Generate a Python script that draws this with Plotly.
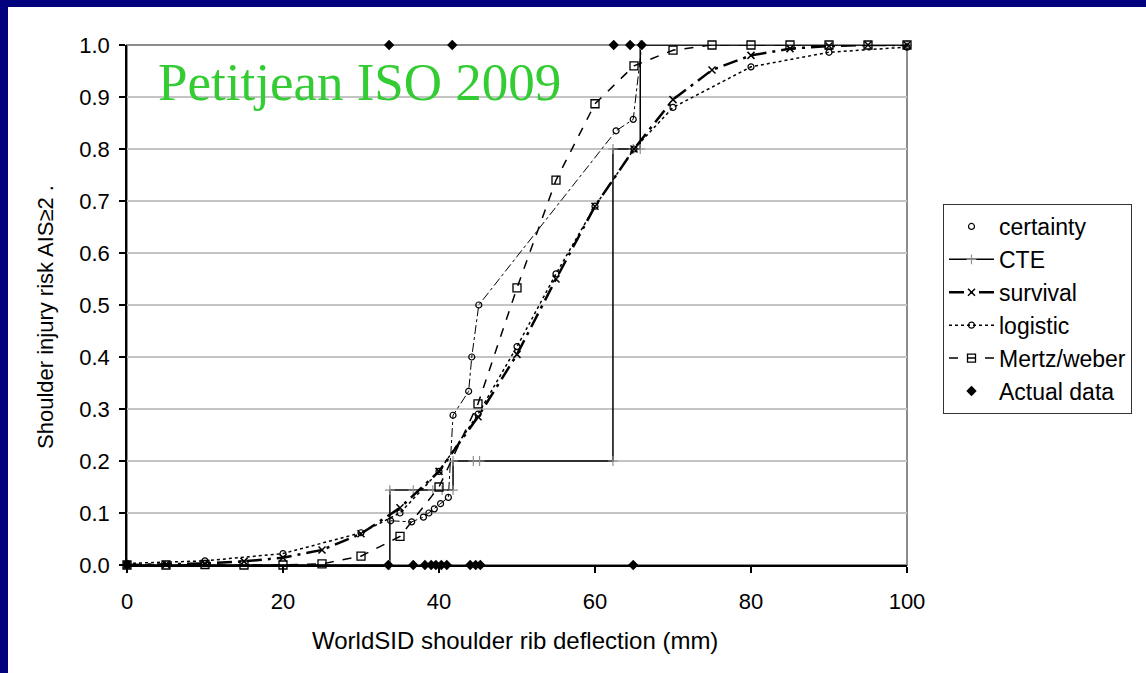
import plotly.graph_objects as go

# ---------------- data ----------------
cert_x = [33.8, 36.5, 38.0, 38.7, 39.4, 40.2, 41.2, 41.8, 43.8, 44.2, 45.1, 62.7, 64.9, 66.0]
cert_y = [0.085, 0.083, 0.092, 0.100, 0.108, 0.118, 0.130, 0.288, 0.334, 0.400, 0.500, 0.835, 0.857, 1.0]

cte_x = [0, 33.7, 33.7, 36.7, 39.2, 40.4, 41.8, 41.8, 44.4, 45.2, 62.3, 62.3, 64.9, 65.8, 65.8, 100]
cte_y = [0, 0, 0.144, 0.144, 0.144, 0.144, 0.144, 0.2, 0.2, 0.2, 0.2, 0.8, 0.8, 0.8, 1.0, 1.0]

surv_x = [0, 5, 10, 15, 20, 25, 30, 35, 40, 45, 50, 55, 60, 65, 70, 75, 80, 85, 90, 95, 100]
surv_y = [0, 0.001, 0.003, 0.007, 0.014, 0.029, 0.060, 0.110, 0.180, 0.285, 0.405, 0.550, 0.690,
          0.800, 0.895, 0.952, 0.980, 0.993, 0.998, 1.0, 1.0]

logi_x = [0, 10, 20, 30, 35, 40, 45, 50, 55, 60, 65, 70, 80, 90, 100]
logi_y = [0.003, 0.008, 0.022, 0.062, 0.100, 0.180, 0.290, 0.420, 0.560, 0.690, 0.800, 0.880,
          0.958, 0.986, 0.996]

mw_x = [0, 5, 10, 15, 20, 25, 30, 35, 40, 45, 50, 55, 60, 65, 70, 75, 80, 85, 90, 95, 100]
mw_y = [0, 0, 0.001, 0, 0, 0.002, 0.017, 0.055, 0.150, 0.310, 0.533, 0.740, 0.887, 0.960,
        0.990, 1.0, 1.0, 1.0, 1.0, 1.0, 1.0]

act_x = [0, 33.5, 36.7, 38.2, 39.0, 39.6, 40.3, 41.0, 44.0, 44.7, 45.3, 64.9,
         33.6, 41.7, 62.4, 64.5, 66.0]
act_y = [0, 0, 0, 0, 0, 0, 0, 0, 0, 0, 0, 0,
         1, 1, 1, 1, 1]

x_ticks = [0, 20, 40, 60, 80, 100]
y_ticks = [0.0, 0.1, 0.2, 0.3, 0.4, 0.5, 0.6, 0.7, 0.8, 0.9, 1.0]

x_title = "WorldSID shoulder rib deflection (mm)"
y_title = "Shoulder injury risk AIS≥2 ."
note = "Petitjean ISO 2009"

# ---------------- figure ----------------
W, H = 1146, 673
ML, MR, MT, MB = 127, 239, 45, 108
PW, PH = W - ML - MR, H - MT - MB

def px_x(p):
    return (p - ML) / PW

def px_y(p):
    return (H - MB - p) / PH

SANS = "Liberation Sans, Arial, sans-serif"

fig = go.Figure()

# certainty connecting line (not in legend)
fig.add_trace(go.Scatter(x=cert_x, y=cert_y, mode="lines", showlegend=False,
                         line=dict(color="black", width=1, dash="dashdot"),
                         hoverinfo="skip", cliponaxis=False))
fig.add_trace(go.Scatter(x=cert_x, y=cert_y, mode="markers", name="certainty",
                         marker=dict(symbol="circle-open", size=6, color="black",
                                     line=dict(width=1.2, color="black")),
                         cliponaxis=False))
fig.add_trace(go.Scatter(x=cte_x, y=cte_y, mode="lines+markers", name="CTE",
                         line=dict(color="black", width=1.5),
                         marker=dict(symbol="cross-thin", size=7,
                                     line=dict(width=1.2, color="#909090")),
                         cliponaxis=False))
fig.add_trace(go.Scatter(x=surv_x, y=surv_y, mode="lines+markers", name="survival",
                         line=dict(color="black", width=2.5, dash="longdashdot"),
                         marker=dict(symbol="x-thin", size=7,
                                     line=dict(width=1.5, color="black")),
                         cliponaxis=False))
fig.add_trace(go.Scatter(x=logi_x, y=logi_y, mode="lines+markers", name="logistic",
                         line=dict(color="black", width=1.5, dash="dot"),
                         marker=dict(symbol="circle-open", size=6, color="black",
                                     line=dict(width=1.2, color="black")),
                         cliponaxis=False))
fig.add_trace(go.Scatter(x=mw_x, y=mw_y, mode="lines+markers", name="Mertz/weber",
                         line=dict(color="black", width=1.5, dash="dash"),
                         marker=dict(symbol="square-open", size=8, color="black",
                                     line=dict(width=1.3, color="black")),
                         cliponaxis=False))
fig.add_trace(go.Scatter(x=act_x, y=act_y, mode="markers", name="Actual data",
                         marker=dict(symbol="diamond", size=8, color="black"),
                         cliponaxis=False))

tick_font = dict(family=SANS, size=22, color="black")

fig.update_layout(
    width=W, height=H, autosize=False,
    margin=dict(l=ML, r=MR, t=MT, b=MB, pad=0),
    paper_bgcolor="#02027E",
    plot_bgcolor="white",
    showlegend=True,
    legend=dict(
        x=px_x(943), y=px_y(204), xanchor="left", yanchor="top",
        bgcolor="white", bordercolor="#333333", borderwidth=1,
        font=dict(family=SANS, size=23, color="black"),
        itemwidth=45, tracegroupgap=0,
    ),
    xaxis=dict(range=[0, 100], tickvals=x_ticks, ticktext=[str(v) for v in x_ticks],
               showgrid=False, zeroline=False, showline=True, linecolor="black",
               linewidth=1.5, ticks="outside", ticklen=6, tickwidth=1.5,
               tickcolor="black", tickfont=tick_font, ticklabelstandoff=10),
    yaxis=dict(range=[0, 1], tickvals=y_ticks, tickformat=".1f",
               showgrid=True, gridcolor="#C4C4C4", gridwidth=2,
               zeroline=False, showline=True, linecolor="black",
               linewidth=1.5, ticks="outside", ticklen=6, tickwidth=1.5,
               tickcolor="black", tickfont=tick_font, ticklabelstandoff=5),
    shapes=[
        dict(type="rect", xref="paper", yref="paper",
             x0=px_x(8), x1=px_x(W + 5), y0=px_y(H + 5), y1=px_y(7),
             fillcolor="white", line=dict(width=0), layer="below"),
        dict(type="rect", xref="paper", yref="paper", x0=0, x1=1, y0=0, y1=1,
             line=dict(color="#8C8C8C", width=2), layer="below"),
    ],
    annotations=[
        dict(text=note, xref="paper", yref="paper", x=px_x(156), y=px_y(82),
             xanchor="left", yanchor="middle", showarrow=False,
             font=dict(family="Liberation Serif, Times New Roman, serif", size=53,
                       color="#33CC33")),
        dict(text=x_title, xref="paper", yref="paper", x=px_x(515), y=px_y(640),
             xanchor="center", yanchor="middle", showarrow=False,
             font=dict(family=SANS, size=24, color="black")),
        dict(text=y_title, xref="paper", yref="paper", x=px_x(46), y=px_y(317),
             xanchor="center", yanchor="middle", showarrow=False, textangle=-90,
             font=dict(family=SANS, size=22, color="black")),
    ],
)

fig.write_html("out.html")
